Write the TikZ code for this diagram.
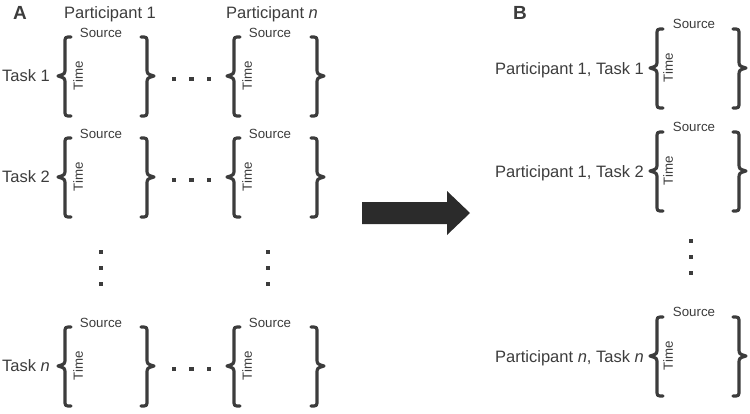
\documentclass[tikz,border=0pt]{standalone}
\usepackage{fontspec}
\setmainfont{Liberation Sans}
\definecolor{ink}{HTML}{3C3C3C}
\definecolor{arrowc}{HTML}{2B2B2B}
\newcommand\LeftBr[2]{%
  \draw[br] (#1+6,#2-39) .. controls (#1,#2-39) .. (#1,#2-33) -- (#1,#2-8)
    .. controls (#1,#2-2) .. (#1-7,#2) .. controls (#1,#2+2) .. (#1,#2+8)
    -- (#1,#2+34) .. controls (#1,#2+40) .. (#1+6,#2+40);}
\newcommand\RightBr[2]{%
  \draw[br] (#1-6,#2-39) .. controls (#1,#2-39) .. (#1,#2-33) -- (#1,#2-8)
    .. controls (#1,#2-2) .. (#1+7,#2) .. controls (#1,#2+2) .. (#1,#2+8)
    -- (#1,#2+34) .. controls (#1,#2+40) .. (#1-6,#2+40);}
\newcommand\SqDot[2]{\fill[ink] (#1-2.3,#2-2.3) rectangle (#1+2.3,#2+2.3);}
\begin{document}
\begin{tikzpicture}[x=1pt,y=-1pt,
  br/.style={draw=ink, line width=3.2pt, line cap=round, line join=round},
  lab/.style={text=ink, font=\fontsize{16.5}{19}\selectfont, inner sep=0pt},
  small/.style={text=ink, font=\fontsize{13.3}{15}\selectfont, inner sep=0pt},
  panel/.style={text=ink, font=\fontsize{19}{21}\selectfont\bfseries, inner sep=0pt}]
\useasboundingbox (0,0) rectangle (750,413);

% ---------- Panel A ----------
\node[panel] (A) at (20,13) {A};
\node[lab] (p1) at (110,14) {Participant 1};
\node[lab] (pn) at (272,14) {Participant \textit{n}};

\foreach \m/\t/\k in {76/Task 1/1, 177/Task 2/2, 366/{Task \textit{n}}/3} {
  \node[lab, anchor=west] (task\k) at (2,\m) {\t};
  \foreach \L/\R/\c in {65/147/1, 234/317/2} {
    \LeftBr{\L}{\m}
    \RightBr{\R}{\m}
    \node[small] (src\k\c) at (\L+36,\m-43) {Source};
    \node[small, rotate=90] (time\k\c) at (\L+13,\m) {Time};
  }
  \SqDot{174}{\m+3}
  \SqDot{191.5}{\m+3}
  \SqDot{209}{\m+3}
}
\foreach \y in {252,268,284} {
  \SqDot{101}{\y}
  \SqDot{268}{\y}
}

% ---------- Arrow ----------
\fill[arrowc] (362,202) -- (447,202) -- (447,191) -- (470,213) -- (447,235)
  -- (447,224) -- (362,224) -- cycle;

% ---------- Panel B ----------
\node[panel] (B) at (520,13) {B};
\foreach \m/\t/\k in {68/{Participant 1, Task 1}/1, 171/{Participant 1, Task 2}/2,
                      356/{Participant \textit{n}, Task \textit{n}}/3} {
  \node[lab, anchor=east] (lbl\k) at (644,\m+2) {\t};
  \LeftBr{657}{\m}
  \RightBr{739}{\m}
  \node[small] (bsrc\k) at (694,\m-44) {Source};
  \node[small, rotate=90] (btime\k) at (668,\m) {Time};
}
\foreach \y in {241,257,273} {
  \SqDot{691}{\y}
}
\end{tikzpicture}
\end{document}
